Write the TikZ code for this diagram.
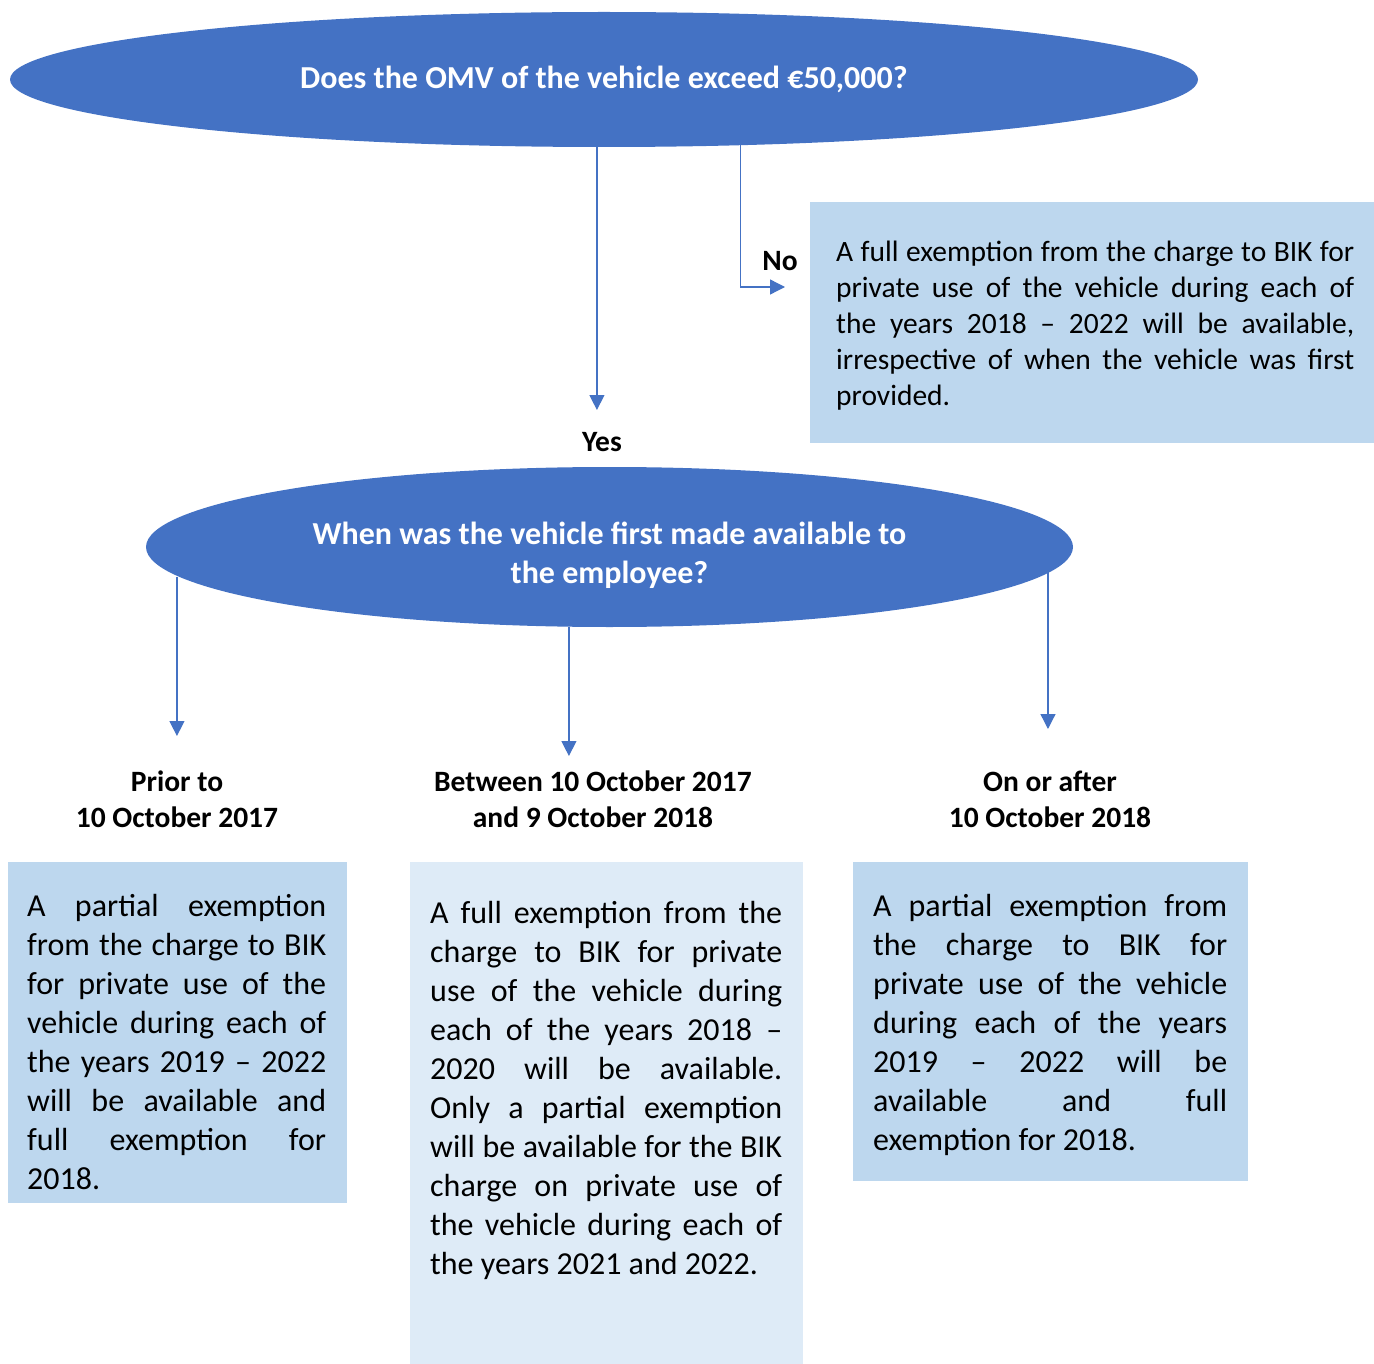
\documentclass[tikz,border=0pt]{standalone}
\usepackage{fontspec}
\setmainfont{Carlito}
\usetikzlibrary{arrows.meta, shapes.geometric}

\definecolor{ovalblue}{RGB}{68,114,196}
\definecolor{boxblue}{RGB}{189,215,238}
\definecolor{paleblue}{RGB}{222,235,247}

\begin{document}
\begin{tikzpicture}[x=1pt, y=-1pt,
	oval/.style={ellipse, fill=ovalblue, inner sep=0pt, outer sep=0pt, text=white, align=center, font=\fontsize{32}{39}\selectfont\bfseries},
	panel/.style={fill=boxblue, inner sep=0pt, outer sep=0pt, anchor=north west},
	body/.style={inner sep=0pt, anchor=base west, align=justify, font=\fontsize{32}{39}\selectfont},
	lbl/.style={inner sep=0pt, anchor=base, align=center, font=\fontsize{29.5}{36}\selectfont\bfseries},
	flow/.style={draw=ovalblue, line width=1.3pt, -{Triangle[width=15pt,length=15pt]}}]
	
	\useasboundingbox (0,0) rectangle (1374,1364);
	\hyphenpenalty=10000 \tolerance=10000
	
	% the two questions
	\node[oval, minimum width=1188, minimum height=135] (omv) at (604,79.5) {Does the OMV of the vehicle exceed €50,000?};
	\node[oval, minimum width=927, minimum height=160, text height=79pt] (when) at (609.5,547) {When was the vehicle first made available to\\the employee?};
	
	% answer to No
	\node[panel, minimum width=564, minimum height=241] (nobox) at (810,202) {};
	\node[body, text width=518, font=\fontsize{29.5}{36}\selectfont] (notext) at (836,262) {A full exemption from the charge to BIK for\linebreak private use of the vehicle during each of\linebreak the years 2018 – 2022 will be available,\linebreak irrespective of when the vehicle was first\linebreak provided.};
	
	\node[lbl] (yes) at (602,451) {Yes};
	\node[lbl] (no) at (780,271) {No};
	\coordinate (yestip) at (597,410);
	\coordinate (notip) at (785,287);
	\draw[flow] (omv.264) -- (omv.264 |- yestip);
	\draw[flow] ([xshift=2pt]omv.334) |- (notip);
	
	% the three dates (base = last line)
	\node[lbl] (prior) at (177,827) {Prior to\\10 October 2017};
	\node[lbl] (between) at (593,827) {Between 10 October 2017\\and 9 October 2018};
	\node[lbl] (after) at (1050,827) {On or after\\10 October 2018};
	\coordinate (priortip) at (177,736);
	\coordinate (betweentip) at (569,756);
	\coordinate (aftertip) at (1048,729);
	\draw[flow] ([xshift=-3pt]when.184) -- ([xshift=-3pt]when.184 |- priortip);
	\draw[flow] (when.243) -- (when.243 |- betweentip);
	\draw[flow] ([xshift=-5pt]when.357) -- ([xshift=-5pt]when.357 |- aftertip);
	
	\node[panel, minimum width=339, minimum height=341] (priorbox) at (8,862) {};
	\node[panel, fill=paleblue, minimum width=393, minimum height=502] (betweenbox) at (410,862) {};
	\node[panel, minimum width=395, minimum height=319] (afterbox) at (853,862) {};
	
	\node[body, text width=299] (priortext) at (27,916) {A partial exemption\linebreak from the charge to BIK\linebreak for private use of the\linebreak vehicle during each of\linebreak the years 2019 – 2022\linebreak will be available and\linebreak full exemption for\linebreak 2018.};
	\node[body, text width=352] (betweentext) at (430,923) {A full exemption from the\linebreak charge to BIK for private\linebreak use of the vehicle during\linebreak each of the years 2018 –\linebreak 2020 will be available.\linebreak Only a partial exemption\linebreak will be available for the BIK\linebreak charge on private use of\linebreak the vehicle during each of\linebreak the years 2021 and 2022.};
	\node[body, text width=354] (aftertext) at (873,916) {A partial exemption from\linebreak the charge to BIK for\linebreak private use of the vehicle\linebreak during each of the years\linebreak 2019 – 2022 will be\linebreak available and full\linebreak exemption for 2018.};
	
\end{tikzpicture}
\end{document}
